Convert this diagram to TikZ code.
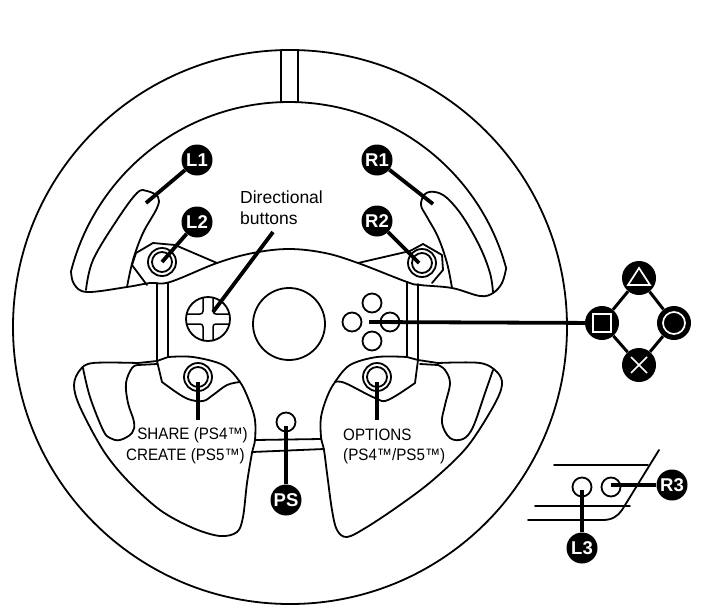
\documentclass[tikz,border=0pt]{standalone}
\usepackage{fontspec}
\setmainfont{Liberation Sans}
\newfontfamily\condfont[FakeStretch=0.92]{Liberation Sans}
\usetikzlibrary{calc}
\tikzset{
  outl/.style={draw=black,line width=1.8pt,line join=round,line cap=round},
  lead/.style={draw=black,line width=3.8pt},
  thin lead/.style={draw=black,line width=3pt},
  badge/.style={circle,fill=black,text=white,inner sep=0pt,minimum size=31pt,font=\fontsize{18.5}{18.5}\selectfont\bfseries},
  sym/.style={circle,fill=black,inner sep=0pt,minimum size=34pt},
  symline/.style={draw=white,line width=1.7pt},
  btn/.style={circle,draw=black,fill=white,line width=1.8pt,inner sep=0pt,minimum size=19pt},
  ringo/.style={circle,draw=black,line width=1.8pt,inner sep=0pt,minimum size=28pt},
  ringi/.style={circle,draw=black,line width=1.8pt,inner sep=0pt,minimum size=20pt},
  lbl/.style={inner sep=0pt,anchor=west,font=\fontsize{16.5}{16.5}\selectfont\condfont},
  lblwide/.style={inner sep=0pt,anchor=west,font=\fontsize{17.5}{17.5}\selectfont},
}
\begin{document}
\begin{tikzpicture}[x=1pt,y=-1pt]
\useasboundingbox (0,0) rectangle (719,613);
\fill[white] (0,0) rectangle (719,613);
% rim
\node[circle,draw=black,line width=1.8pt,minimum size=554pt,inner sep=0pt] (rim) at (290,327) {};
\draw[outl] (281,50) -- (281,102);
\draw[outl] (298,50) -- (298,102);
% inner arc
\draw[outl] plot[domain=165.5:15,samples=80,smooth] ({289+225*cos(\x)},{327-225*sin(\x)});
% upper hub outline with paddles
\draw[outl] plot[smooth,tension=0.6] coordinates {(71,271) (74,284) (87,292) (127,287) (150,283) (170,282) (217,263) (253,253) (289,249) (325,253) (358,263) (407,282) (420,285) (452,288) (480,296) (493,293) (502,283) (506,269)};
% left paddle
\draw[outl] plot[smooth,tension=0.6] coordinates {(86,290) (93,260) (117,220) (137,193) (147,191) (158,197) (157,208) (143,233) (133,260) (127,287)};
% right paddle
\draw[outl] plot[smooth,tension=0.6] coordinates {(493,292) (490,273) (480,247) (463,217) (447,198) (435,192) (425,194) (421,205) (427,217) (438,237) (447,263) (452,288)};
% nuts
\draw[outl] (147,285) -- (132,265) -- (136,253) -- (153,243) -- (175,245) -- (217,263);
\draw[outl] (432,283) -- (443,270) -- (442,255) -- (423,244) -- (410,251) -- (358,263);
% bars
\draw[outl] (157,283) -- (157,361);
\draw[outl] (168,283) -- (168,357);
\draw[outl] (407,282) -- (407,357);
\draw[outl] (418,284) -- (418,359);
% lower left pad
\draw[outl] plot[smooth,tension=0.55] coordinates {(138,363) (93,363) (80,370) (74,385) (80,407) (103,450) (127,480) (160,510) (193,528) (220,536) (237,532) (243,517) (247,483) (252,453) (255,440) (255,420) (250,403) (240,382) (223,365) (193,357) (168,357)};
\draw[outl] (168,357) -- (157,361) -- (138,363);
\draw[outl] plot[smooth,tension=0.6] coordinates {(83,368) (90,397) (103,430) (110,438) (120,440) (132,433) (134,422) (128,403) (126,383) (132,368) (138,365)};
\draw[outl] (138,365) -- (157,364);
\draw[outl] (157,361) -- (162,382) -- (173,390);
\draw[outl] plot[smooth,tension=0.6] coordinates {(173,390) (188,399) (203,401) (213,395) (227,385) (240,382)};
% lower right pad
\draw[outl] plot[smooth,tension=0.55] coordinates {(438,363) (480,363) (497,372) (502,385) (493,407) (467,447) (433,480) (400,505) (367,527) (347,537) (337,530) (332,510) (327,473) (324,450) (321,437) (321,417) (327,397) (335,382) (350,365) (377,357) (407,357)};
\draw[outl] (407,357) -- (418,360) -- (438,363);
\draw[outl] plot[smooth,tension=0.6] coordinates {(493,370) (485,393) (473,427) (463,439) (450,438) (442,423) (445,405) (450,383) (445,370) (438,365)};
\draw[outl] (438,365) -- (420,364);
\draw[outl] (418,360) -- (415,383);
\draw[outl] plot[smooth,tension=0.6] coordinates {(415,383) (388,400) (375,398) (345,383) (335,382)};
% lower bars
\draw[outl] (255,440) -- (321,439);
\draw[outl] (252,452) -- (324,449);
% centre
\node[circle,draw=black,line width=1.8pt,minimum size=72pt,inner sep=0pt] (hub) at (289,324) {};
% directional pad
\node[circle,draw=black,line width=1.8pt,minimum size=44pt,inner sep=0pt] (dpad) at (208,319) {};
\begin{scope}[shift={(dpad)}]
\draw[outl,line width=1.5pt] (-5,-21.5) -- (-5,-8) .. controls (-5,-6) and (-6,-5) .. (-8,-5) -- (-21.5,-5);
\draw[outl,line width=1.5pt] (5,-21.5) -- (5,-8) .. controls (5,-6) and (6,-5) .. (8,-5) -- (21.5,-5);
\draw[outl,line width=1.5pt] (-5,21.5) -- (-5,8) .. controls (-5,6) and (-6,5) .. (-8,5) -- (-21.5,5);
\draw[outl,line width=1.5pt] (5,21.5) -- (5,8) .. controls (5,6) and (6,5) .. (8,5) -- (21.5,5);
\end{scope}
% face buttons
\node[btn,fill=none] (bT) at (372,303) {};
\node[btn,fill=none] (bL) at (352,322) {};
\node[btn,fill=none] (bR) at (390,322) {};
\node[btn,fill=none] (bB) at (372,341) {};
% ring buttons
\node[ringo] (nutL) at (162,262) {}; \node[ringi] at (nutL) {};
\node[ringo] (nutR) at (422,263) {}; \node[ringi] at (nutR) {};
\node[ringo] (sh) at (198,377) {}; \node[ringi] at (sh) {};
\node[ringo] (op) at (377,377) {}; \node[ringi] at (op) {};
\node[btn] (ps) at (286,422) {};
% inset
\draw[outl] (554,465) -- (648,465);
\draw[outl] (535,506) -- (630,506);
\draw[outl] (528,520) -- (603,520) .. controls (612,520) and (618,516) .. (622,510) -- (659,450);
\node[btn,fill=none] (l3b) at (582,487) {};
\node[btn,fill=none] (r3b) at (611,487) {};
% badges
\node[badge] (L1) at (197,160) {L1};
\node[badge] (L2) at (197,222) {L2};
\node[badge] (R1) at (377,160) {R1};
\node[badge] (R2) at (377,221) {R2};
\node[badge] (PS) at (286,500) {PS};
\node[badge] (R3) at (672,485) {R3};
\node[badge] (L3) at (582,548) {L3};
% symbols
\node[sym] (tri) at (639,278) {};
\node[sym] (squ) at (602,323) {};
\node[sym] (cir) at (674,323) {};
\node[sym] (crs) at (639,365) {};
\draw[thin lead] (tri) -- (squ);
\draw[thin lead] (tri) -- (cir);
\draw[thin lead] (crs) -- (squ);
\draw[thin lead] (crs) -- (cir);
\draw[symline] ($(tri)+(0,-10)$) -- ($(tri)+(11,7)$) -- ($(tri)+(-11,7)$) -- cycle;
\draw[symline] ($(squ)+(-9,-9)$) rectangle ($(squ)+(9,9)$);
\draw[symline] (cir) circle[radius=11];
\draw[symline] ($(crs)+(-8,-8)$) -- ($(crs)+(8,8)$);
\draw[symline] ($(crs)+(-8,8)$) -- ($(crs)+(8,-8)$);
% leaders
\coordinate (eL1) at (146,203);
\coordinate (eL2) at (162,262);
\coordinate (eR1) at (433,204);
\coordinate (eR2) at (419,263);
\coordinate (eD) at (213,312);
\coordinate (dT) at (273,232);
\coordinate (eSq) at (369,322);
\coordinate (eSh) at (198,382);
\coordinate (eShb) at (198,420);
\coordinate (eOp) at (377,382);
\coordinate (eOpb) at (377,420);
\coordinate (ePS) at (286,426);
\coordinate (eL3) at (582,490);
\coordinate (eR3) at (611,485);
\draw[lead] (L1) -- (eL1);
\draw[lead] (L2) -- (eL2);
\draw[lead] (R1) -- (eR1);
\draw[lead] (R2) -- (eR2);
\draw[lead] (dT) -- (eD);
\draw[lead] (squ) -- (eSq);
\draw[lead] (eSh) -- (eShb);
\draw[lead] (eOp) -- (eOpb);
\draw[lead] (PS) -- (ePS);
\draw[lead] (L3) -- (eL3);
\draw[lead] (R3) -- (eR3);
% labels
\node[lblwide] (t1) at (240,197) {Directional};
\node[lblwide] (t2) at (240,218) {buttons};
\node[lbl,anchor=east] (t3) at (248,435) {SHARE (PS4™)};
\node[lbl,anchor=east] (t4) at (245,456) {CREATE (PS5™)};
\node[lbl] (t5) at (343,435) {OPTIONS};
\node[lbl] (t6) at (343,456) {(PS4™/PS5™)};
\end{tikzpicture}
\end{document}
